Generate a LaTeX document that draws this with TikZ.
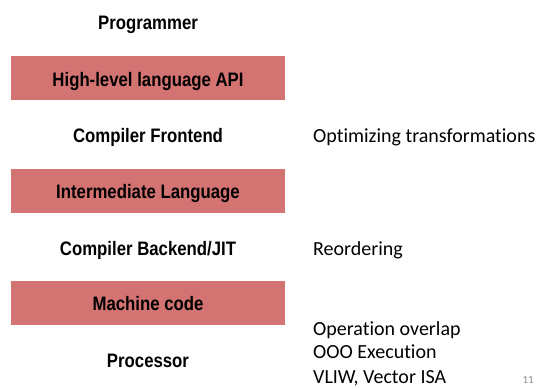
\documentclass[tikz,border=0pt]{standalone}
\usepackage{fontspec}
\setmainfont{Carlito}[Ligatures=NoCommon]
\newfontfamily\boldnarrow[FakeStretch=0.86]{Liberation Sans Bold}
\definecolor{boxred}{RGB}{212,116,114}
\definecolor{pagegray}{RGB}{140,140,140}
\begin{document}
\begin{tikzpicture}[x=1pt,y=-1pt,
  layer/.style={font=\boldnarrow\fontsize{19.5}{22}\selectfont, anchor=base, inner sep=0pt},
  redbox/.style={fill=boxred, draw=none},
  note/.style={font=\fontsize{20}{24}\selectfont, anchor=base west, inner sep=0pt}]
\useasboundingbox (0,0) rectangle (545,388);
\fill[redbox] (11,56) rectangle (285,100);
\fill[redbox] (11,169) rectangle (285,213);
\fill[redbox] (11,281) rectangle (285,325);
\node[layer] (prog) at (148,29.3) {Programmer};
\node[layer] (api) at (148,86) {High-level language API};
\node[layer] (front) at (148,142) {Compiler Frontend};
\node[layer] (il) at (148,198.3) {Intermediate Language};
\node[layer] (back) at (148,255.7) {Compiler Backend/JIT};
\node[layer] (mc) at (148,310.7) {Machine code};
\node[layer] (proc) at (148,367) {Processor};
\node[note] (opt) at (313,142) {Optimizing transformations};
\node[note] (reo) at (313,255.5) {Reordering};
\node[note] (ov) at (313,335) {Operation overlap};
\node[note] (ooo) at (313,358.5) {OOO Execution};
\node[note] (vliw) at (313,383) {VLIW, Vector ISA};
\node[font=\fontsize{11}{12}\selectfont, text=pagegray, anchor=base east, inner sep=0pt] (pg) at (534,383) {11};
\end{tikzpicture}
\end{document}
